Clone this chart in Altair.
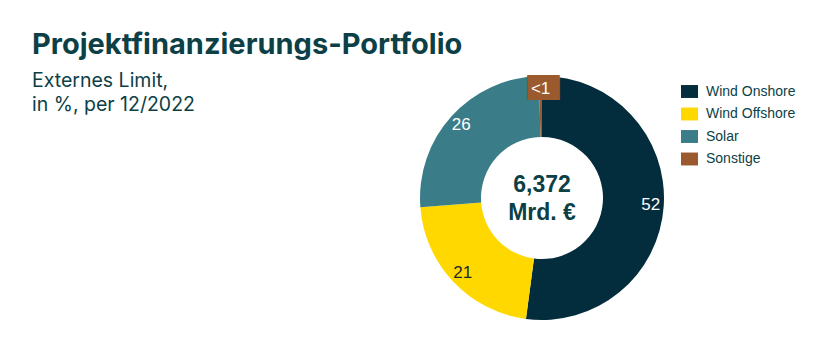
import altair as alt
import pandas as pd

categories = ["Wind Onshore", "Wind Offshore", "Solar", "Sonstige"]
values = [52.1, 21.7, 25.8, 0.4]
labels = ["52", "21", "26", "<1"]
colors = ["#032d3c", "#ffd800", "#3a7d88", "#9a5a2e"]
label_colors = ["#ffffff", "#1b2b2b", "#ffffff", "#ffffff"]

title = "Projektfinanzierungs-Portfolio"
subtitle = ["Externes Limit,", "in %, per 12/2022"]
center_text = ["6,372", "Mrd. €"]

TEXT_COLOR = "#0c3f46"
ARIAL = "Liberation Sans, Arial, Helvetica, sans-serif"
CX, CY = 542, 198

df = pd.DataFrame({
    "cat": categories,
    "val": values,
    "lab": labels,
    "tcol": label_colors,
    "idx": list(range(len(categories))),
})

base = alt.Chart(df).encode(
    theta=alt.Theta("val:Q", stack=True),
    order=alt.Order("idx:Q"),
)

arcs = base.mark_arc(outerRadius=122, innerRadius=61, stroke=None).encode(
    x=alt.value(CX), y=alt.value(CY),
    color=alt.Color(
        "cat:N",
        scale=alt.Scale(domain=categories, range=colors),
        sort=categories,
        legend=alt.Legend(
            title=None, orient="none", legendX=681, legendY=83,
            symbolType="M-1,-0.76L1,-0.76L1,0.76L-1,0.76Z", symbolSize=289,
            symbolStrokeWidth=0, labelFont=ARIAL, labelFontSize=14,
            labelColor=TEXT_COLOR, labelOffset=8, rowPadding=6.5, padding=0,
        ),
    ),
)

box = base.transform_filter(alt.datum.cat == "Sonstige").mark_text(
    radius=109, font="DejaVu Sans", fontSize=21, baseline="middle", align="center", dy=0
).encode(
    x=alt.value(CX), y=alt.value(CY),
    text=alt.value("██"),
    color=alt.value(colors[3]),
)

arc_labels = base.mark_text(
    radius=109, font=ARIAL, fontSize=17, baseline="middle", align="center"
).encode(
    x=alt.value(CX), y=alt.value(CY),
    text="lab:N",
    color=alt.Color("tcol:N", scale=None),
)

center = alt.Chart(pd.DataFrame({"t": [center_text]})).mark_text(
    font=ARIAL, fontSize=23, fontWeight="bold", color=TEXT_COLOR,
    align="center", baseline="middle", lineHeight=28,
).encode(x=alt.value(CX), y=alt.value(CY - 13), text="t")

title_mark = alt.Chart(pd.DataFrame({"t": [title]})).mark_text(
    font="Inter", fontSize=29, fontWeight="bold", color=TEXT_COLOR,
    align="left", baseline="alphabetic",
).encode(x=alt.value(32), y=alt.value(54), text="t")

sub_mark = alt.Chart(pd.DataFrame({"t": [subtitle]})).mark_text(
    font="Inter", fontSize=19.5, fontWeight=400, color=TEXT_COLOR,
    align="left", baseline="alphabetic", lineHeight=24,
).encode(x=alt.value(32), y=alt.value(87), text="t")

chart = alt.layer(arcs, box, arc_labels, center, title_mark, sub_mark).properties(
    width=833, height=351, autosize=alt.AutoSizeParams(type="none"), padding=0,
    background="white",
).configure_view(stroke=None)

chart.save("out.html", embed_options={"renderer": "svg", "actions": False})
